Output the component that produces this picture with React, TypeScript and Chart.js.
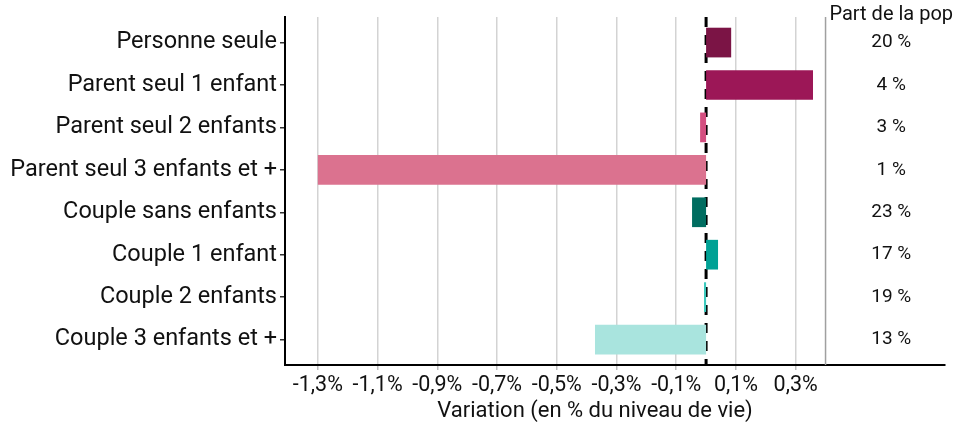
import React, { useEffect, useRef } from "react";
import { Chart, registerables } from "chart.js";

Chart.register(...registerables);

const categories = [
  "Personne seule",
  "Parent seul 1 enfant",
  "Parent seul 2 enfants",
  "Parent seul 3 enfants et +",
  "Couple sans enfants",
  "Couple 1 enfant",
  "Couple 2 enfants",
  "Couple 3 enfants et +",
];
const variation = [0.084, 0.358, -0.02, -1.3, -0.047, 0.04, -0.007, -0.372];
const partPop = ["20 %", "4 %", "3 %", "1 %", "23 %", "17 %", "19 %", "13 %"];
const barColors = [
  "#7b1445",
  "#9c1757",
  "#d44f80",
  "#db728f",
  "#006d60",
  "#00a195",
  "#3dc9bd",
  "#a9e4de",
];
const xTicks = [-1.3, -1.1, -0.9, -0.7, -0.5, -0.3, -0.1, 0.1, 0.3];
const xTitle = "Variation (en % du niveau de vie)";
const panelTitle = "Part de la pop";

const FONT = "Roboto";

const overlay = {
  id: "overlay",
  beforeDatasetsDraw(chart: any) {
    const { ctx, chartArea, scales } = chart;
    const x = scales.x;
    ctx.save();
    const xs = x.getPixelForValue(0.4);
    ctx.strokeStyle = "#a0a0a0";
    ctx.lineWidth = 1.5;
    ctx.beginPath();
    ctx.moveTo(xs, chartArea.top);
    ctx.lineTo(xs, chartArea.bottom);
    ctx.stroke();
    const x0 = x.getPixelForValue(0);
    ctx.strokeStyle = "#000";
    ctx.lineWidth = 3;
    ctx.setLineDash([10, 8]);
    ctx.beginPath();
    ctx.moveTo(x0, chartArea.top);
    ctx.lineTo(x0, chartArea.bottom);
    ctx.stroke();
    ctx.restore();
  },
  afterDraw(chart: any) {
    const { ctx, scales } = chart;
    const x = scales.x;
    const y = scales.y;
    ctx.save();
    ctx.fillStyle = "#111";
    ctx.textAlign = "center";
    ctx.textBaseline = "middle";
    const xc = x.getPixelForValue(0.62);
    ctx.font = `20px ${FONT}`;
    ctx.fillText(panelTitle, xc, 15);
    ctx.font = `19px ${FONT}`;
    partPop.forEach((t, i) => {
      ctx.fillText(t, xc, y.getPixelForValue(i + 1));
    });
    ctx.font = `22px ${FONT}`;
    ctx.fillText(xTitle, 595, 411);
    ctx.restore();
  },
};

export default function App() {
  const ref = useRef<HTMLCanvasElement>(null);
  useEffect(() => {
    document.body.style.margin = "0";
    const chart = new Chart(ref.current!, {
      type: "bar",
      data: {
        datasets: [
          {
            data: variation.map((v, i) => ({ x: v, y: i + 1 })),
            backgroundColor: barColors,
            barPercentage: 0.7,
            categoryPercentage: 1,
          },
        ],
      },
      options: {
        indexAxis: "y",
        animation: false,
        responsive: false,
        layout: { padding: { top: 15, right: 13, left: 0, bottom: 0 } },
        plugins: { legend: { display: false }, tooltip: { enabled: false } },
        scales: {
          x: {
            type: "linear",
            min: -1.41,
            max: 0.8,
            offset: false,
            afterBuildTicks: (s: any) => {
              s.ticks = xTicks.map((v) => ({ value: v }));
            },
            afterFit: (s: any) => {
              s.height = 60;
            },
            grid: {
              offset: false,
              color: "#d3d3d3",
              lineWidth: 1.5,
              drawTicks: true,
              tickLength: 5,
              tickColor: "#bdbdbd",
            },
            border: { display: true, color: "#000", width: 2 },
            ticks: {
              autoSkip: false,
              maxRotation: 0,
              padding: 3,
              color: "#111",
              font: { family: FONT, size: 21.5 },
              callback: (v: any) => Number(v).toFixed(1).replace(".", ",") + "%",
            },
          },
          y: {
            type: "linear",
            min: 0.4,
            max: 8.6,
            reverse: true,
            offset: false,
            afterBuildTicks: (s: any) => {
              s.ticks = categories.map((_, i) => ({ value: i + 1 }));
            },
            afterFit: (s: any) => {
              s.width = 285;
            },
            grid: {
              offset: false,
              drawOnChartArea: false,
              drawTicks: true,
              tickLength: 5,
              tickColor: "#333",
              lineWidth: 1.5,
            },
            border: { display: true, color: "#000", width: 2 },
            ticks: {
              autoSkip: false,
              padding: 3,
              color: "#111",
              font: { family: FONT, size: 23.5 },
              callback: (v: any) => categories[Number(v) - 1] ?? "",
            },
          },
        },
      },
      plugins: [overlay],
    });
    return () => chart.destroy();
  }, []);
  return <canvas ref={ref} width={958} height={425} style={{ display: "block" }} />;
}
